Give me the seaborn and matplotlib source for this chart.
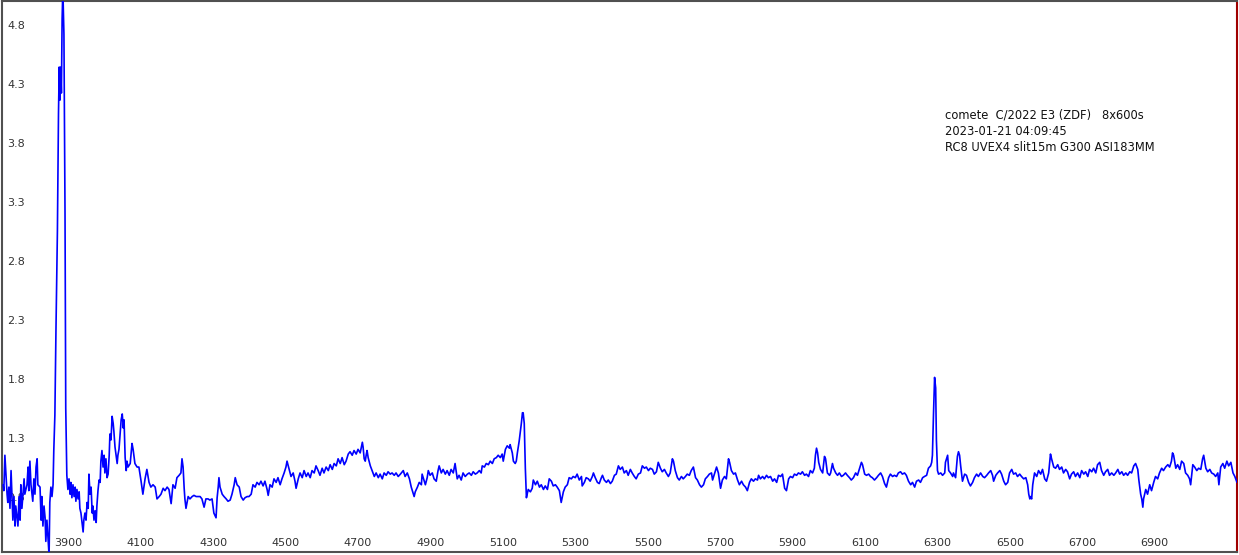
import pandas as pd
import matplotlib
matplotlib.use('Agg')
import matplotlib.pyplot as plt
from matplotlib.ticker import MultipleLocator
import seaborn as sns

sns.set_style('white')
plt.rcParams['font.family'] = ['DejaVu Sans']

# Spectrum values (wavelength in A, relative flux)
wl_uv = [3720, 3722, 3725, 3731, 3733, 3736, 3739, 3742, 3744, 3747, 3750, 3753, 3755, 3761, 3764,
         3767, 3769, 3772, 3778, 3780, 3786, 3789, 3791, 3794, 3797, 3802, 3805, 3808, 3811, 3814,
         3816, 3822, 3825, 3827, 3830, 3833, 3836, 3838, 3841, 3844, 3847, 3849, 3852, 3855, 3858]
flux_uv = [0.9, 0.85, 1.15, 0.82, 0.75, 0.88, 0.7, 1.02, 0.85, 0.6, 0.8, 0.55, 0.72, 0.55, 0.8,
           0.6, 0.9, 0.7, 0.95, 0.82, 0.9, 1.05, 0.85, 1.1, 0.9, 0.76, 0.95, 0.82, 1.05, 1.12,
           0.9, 0.88, 0.6, 0.8, 0.55, 0.72, 0.62, 0.42, 0.6, 0.45, 0.3, 0.75, 0.88, 0.8, 0.9]

wl_cn = [3860, 3863, 3866, 3870, 3873, 3875, 3877, 3879, 3881, 3883, 3885, 3888, 3891, 3893, 3896]
flux_cn = [1.19, 1.49, 2.21, 3.05, 4.05, 4.44, 4.16, 4.44, 4.22, 4.85, 5.1, 4.72, 3.2, 1.55, 0.98]

wl_c3 = [3899, 3902, 3905, 3907, 3910, 3913, 3916, 3919, 3921, 3924, 3927, 3930, 3932, 3935, 3938,
         3941, 3943, 3946, 3949, 3952, 3955, 3957, 3960, 3963, 3966, 3968, 3971, 3974, 3977, 3979,
         3982, 3985, 3988, 3990, 3993, 3996, 3999, 4001, 4004, 4007, 4010, 4013, 4015, 4018, 4021,
         4024, 4026, 4029, 4032, 4035, 4037, 4040, 4043, 4046, 4049, 4052, 4054, 4057, 4060, 4062,
         4065, 4071, 4076, 4079, 4084, 4090, 4095, 4101, 4106, 4112, 4117, 4123, 4128, 4134, 4140,
         4145, 4151, 4156, 4162, 4167, 4173, 4178, 4184, 4189, 4195, 4200, 4206, 4211, 4214, 4217,
         4220, 4222, 4225, 4231, 4236, 4242, 4247, 4253, 4258, 4264, 4269, 4275, 4280, 4286, 4291,
         4297, 4302, 4308, 4311, 4314, 4316, 4319, 4325, 4330, 4336, 4341, 4347, 4352, 4358, 4361,
         4366, 4372, 4377, 4383, 4388, 4394, 4399]
flux_c3 = [0.86, 0.95, 0.82, 0.92, 0.79, 0.9, 0.8, 0.88, 0.76, 0.86, 0.78, 0.84, 0.7, 0.66, 0.58,
           0.5, 0.6, 0.66, 0.6, 0.75, 0.7, 0.99, 0.82, 0.88, 0.66, 0.72, 0.6, 0.68, 0.58, 0.72,
           0.85, 0.94, 0.92, 1.1, 1.19, 1.05, 1.15, 1.0, 1.12, 0.96, 0.99, 1.15, 1.33, 1.28, 1.48,
           1.42, 1.35, 1.22, 1.15, 1.08, 1.15, 1.2, 1.33, 1.45, 1.5, 1.38, 1.45, 1.13, 1.02, 1.1,
           1.05, 1.08, 1.25, 1.2, 1.08, 1.05, 1.05, 0.93, 0.82, 0.95, 1.03, 0.92, 0.88, 0.9, 0.88,
           0.78, 0.8, 0.82, 0.87, 0.85, 0.88, 0.86, 0.74, 0.9, 0.87, 0.96, 0.98, 1.0, 1.12, 1.05,
           0.87, 0.78, 0.7, 0.8, 0.78, 0.8, 0.81, 0.8, 0.8, 0.8, 0.78, 0.71, 0.78, 0.78, 0.77,
           0.78, 0.66, 0.62, 0.79, 0.88, 0.96, 0.88, 0.82, 0.8, 0.78, 0.76, 0.77, 0.82, 0.9, 0.96,
           0.9, 0.88, 0.8, 0.77, 0.79, 0.8, 0.8]

wl_c2 = [4405, 4410, 4416, 4421, 4427, 4432, 4438, 4443, 4449, 4452, 4457, 4463, 4468, 4474, 4479,
         4485, 4490, 4496, 4501, 4504, 4510, 4515, 4521, 4526, 4529, 4535, 4540, 4546, 4551, 4557,
         4562, 4568, 4573, 4579, 4584, 4590, 4595, 4601, 4606, 4612, 4618, 4623, 4629, 4634, 4640,
         4645, 4651, 4656, 4662, 4667, 4673, 4678, 4684, 4689, 4695, 4700, 4706, 4712, 4714, 4717,
         4720, 4723, 4725, 4728, 4734, 4739, 4745, 4750, 4756, 4761, 4767, 4772, 4778, 4783, 4789,
         4794, 4800, 4805, 4811, 4817, 4825, 4830, 4836, 4842, 4847, 4853, 4855, 4858, 4864, 4869,
         4875, 4877, 4883, 4886, 4891, 4894, 4899, 4905, 4910, 4916, 4921, 4924, 4930, 4935, 4941,
         4946, 4952, 4957, 4963, 4968, 4974, 4979, 4985, 4990, 4996, 5002, 5007, 5013, 5018, 5024,
         5029, 5035, 5040, 5043, 5049, 5054, 5060, 5065, 5071, 5076, 5082, 5087, 5093, 5098, 5101,
         5107, 5112, 5118, 5120, 5126, 5129, 5134, 5137, 5140, 5145, 5151, 5154, 5156, 5159, 5162]
flux_c2 = [0.82, 0.9, 0.88, 0.92, 0.9, 0.93, 0.89, 0.93, 0.86, 0.81, 0.9, 0.88, 0.95, 0.92, 0.96,
           0.9, 0.95, 1.0, 1.05, 1.1, 1.03, 0.97, 1.0, 0.93, 0.87, 0.95, 1.0, 0.96, 1.02, 0.97,
           1.0, 0.96, 1.02, 1.0, 1.06, 1.02, 0.98, 1.04, 1.0, 1.05, 1.02, 1.07, 1.03, 1.08, 1.06,
           1.12, 1.08, 1.13, 1.07, 1.1, 1.16, 1.18, 1.15, 1.19, 1.16, 1.2, 1.17, 1.26, 1.22, 1.12,
           1.1, 1.16, 1.19, 1.13, 1.06, 1.02, 0.97, 1.0, 0.96, 0.99, 0.95, 1.0, 0.98, 1.01, 0.99,
           1.0, 0.98, 1.0, 0.97, 0.99, 1.02, 0.97, 1.0, 0.95, 0.88, 0.82, 0.8, 0.84, 0.88, 0.92,
           0.9, 0.99, 0.93, 0.9, 0.96, 1.02, 0.98, 1.0, 0.95, 0.93, 1.02, 1.06, 1.0, 1.03, 0.99,
           1.02, 0.98, 1.03, 1.0, 1.08, 0.95, 0.98, 0.94, 1.0, 0.97, 0.99, 1.0, 0.98, 1.01, 0.99,
           1.0, 1.02, 1.0, 1.06, 1.05, 1.08, 1.07, 1.1, 1.08, 1.12, 1.13, 1.15, 1.13, 1.16, 1.1,
           1.2, 1.23, 1.21, 1.24, 1.17, 1.1, 1.08, 1.1, 1.17, 1.27, 1.42, 1.51, 1.51, 1.42, 1.04]

wl_mid = [5165, 5167, 5170, 5176, 5181, 5184, 5190, 5195, 5201, 5206, 5212, 5217, 5223, 5228, 5234,
          5239, 5245, 5250, 5256, 5261, 5267, 5272, 5278, 5283, 5289, 5294, 5300, 5305, 5311, 5317,
          5319, 5325, 5330, 5336, 5341, 5347, 5350, 5355, 5361, 5366, 5372, 5375, 5380, 5386, 5391,
          5397, 5402, 5408, 5413, 5419, 5424, 5430, 5435, 5441, 5446, 5452, 5457, 5463, 5468, 5474,
          5480, 5485, 5491, 5496, 5502, 5507, 5513, 5518, 5524, 5529, 5535, 5540, 5546, 5551, 5557,
          5562, 5568, 5571, 5576, 5582, 5587, 5593, 5598, 5604, 5609, 5615, 5620, 5626, 5632, 5637,
          5643, 5648, 5654, 5659, 5665, 5670, 5676, 5679, 5684, 5690, 5695, 5701, 5706, 5712, 5717,
          5723, 5726, 5731, 5737, 5742, 5748, 5753, 5759, 5764, 5770, 5775, 5781, 5786, 5792, 5797,
          5803, 5806, 5811, 5817, 5822, 5828, 5833, 5839, 5845, 5850, 5856, 5861, 5867, 5872, 5878,
          5883, 5889, 5894, 5900, 5905, 5911, 5916, 5922, 5927, 5933, 5938, 5944, 5949, 5955, 5960,
          5963, 5966, 5969, 5972, 5977, 5983, 5985, 5988, 5991, 5996, 6002]
flux_mid = [0.79, 0.82, 0.86, 0.84, 0.87, 0.94, 0.9, 0.93, 0.88, 0.9, 0.86, 0.89, 0.86, 0.95, 0.93,
            0.89, 0.9, 0.88, 0.85, 0.75, 0.84, 0.88, 0.9, 0.96, 0.95, 0.97, 0.96, 0.99, 0.94, 0.97,
            0.89, 0.92, 0.96, 0.95, 0.93, 0.97, 1.0, 0.96, 0.92, 0.91, 0.96, 0.98, 0.94, 0.92, 0.94,
            0.91, 0.93, 0.98, 0.99, 1.06, 1.03, 1.05, 1.0, 1.02, 0.98, 1.03, 1.0, 0.97, 0.95, 0.99,
            1.0, 1.06, 1.04, 1.05, 1.02, 1.04, 1.03, 0.99, 1.01, 1.09, 1.04, 1.01, 1.03, 1.0, 0.97,
            1.0, 1.12, 1.1, 1.02, 0.96, 0.94, 0.97, 0.95, 0.97, 0.99, 0.98, 1.02, 1.05, 0.96, 0.94,
            0.9, 0.88, 0.9, 0.95, 0.97, 0.99, 1.0, 0.94, 0.99, 1.05, 1.0, 0.87, 0.94, 0.97, 0.95,
            1.12, 1.09, 1.02, 0.99, 1.0, 0.94, 0.9, 0.93, 0.9, 0.88, 0.85, 0.92, 0.95, 0.93, 0.95,
            0.94, 0.98, 0.95, 0.97, 0.95, 0.98, 0.96, 0.97, 0.93, 0.95, 0.92, 0.98, 0.97, 0.99, 0.87,
            0.85, 0.95, 0.97, 0.96, 0.99, 0.98, 1.0, 0.99, 1.01, 0.98, 0.99, 0.97, 1.02, 1.0, 1.04,
            1.15, 1.21, 1.17, 1.09, 1.03, 1.0, 1.06, 1.14, 1.12, 1.0, 0.98]

wl_red = [6005, 6010, 6013, 6019, 6024, 6029, 6035, 6040, 6046, 6051, 6057, 6062, 6068, 6074, 6079,
          6085, 6090, 6093, 6099, 6104, 6110, 6115, 6120, 6126, 6132, 6137, 6143, 6148, 6154, 6159,
          6165, 6170, 6176, 6181, 6187, 6192, 6198, 6203, 6209, 6214, 6220, 6226, 6231, 6237, 6242,
          6248, 6253, 6259, 6264, 6270, 6275, 6281, 6284, 6286, 6289, 6292, 6295, 6297, 6300, 6303,
          6309, 6314, 6320, 6322, 6328, 6331, 6336, 6342, 6344, 6350, 6355, 6358, 6361, 6364, 6369,
          6375, 6380, 6386, 6391, 6397, 6402, 6408, 6413, 6419, 6425, 6430, 6436, 6441, 6447, 6452,
          6455, 6461, 6466, 6472, 6477, 6483, 6488, 6494, 6499, 6505, 6510, 6516, 6521, 6527, 6532,
          6538, 6544, 6549, 6552, 6555, 6557, 6560, 6563, 6568, 6574, 6579, 6585, 6590, 6596, 6601,
          6607, 6610, 6612, 6615, 6621, 6626, 6632, 6637, 6643, 6648, 6654, 6659, 6665, 6670, 6676,
          6681, 6687, 6693, 6698, 6704, 6709, 6715, 6720, 6726, 6731, 6737, 6742, 6748, 6753, 6759,
          6764, 6770, 6775, 6781, 6787, 6792, 6798, 6803, 6809, 6814, 6820, 6825, 6831, 6836, 6842,
          6847, 6853, 6856, 6861, 6864, 6867, 6869, 6875, 6880, 6886, 6891, 6897, 6902, 6908, 6913,
          6919, 6924, 6930, 6936, 6941, 6946, 6949, 6952, 6958, 6963, 6969, 6974, 6980, 6985, 6991,
          6996, 6999, 7005, 7010, 7016, 7021, 7027, 7032, 7035, 7041, 7046, 7052, 7057, 7063, 7068,
          7074, 7077, 7082, 7088, 7093, 7099, 7104, 7110, 7116, 7121, 7127]
flux_red = [1.0, 1.08, 1.04, 1.0, 0.98, 1.0, 0.97, 0.98, 1.0, 0.98, 0.96, 0.94, 0.96, 1.0, 0.98,
            1.04, 1.09, 1.07, 0.99, 0.98, 0.99, 0.97, 0.96, 0.94, 0.96, 0.98, 1.0, 0.97, 0.91, 0.88,
            0.96, 0.99, 0.97, 0.98, 0.97, 1.0, 1.01, 0.99, 1.0, 0.98, 0.93, 0.9, 0.92, 0.88, 0.93,
            0.94, 0.92, 0.96, 0.97, 0.98, 1.04, 1.06, 1.09, 1.15, 1.5, 1.81, 1.72, 1.28, 1.02, 0.99,
            1.0, 0.98, 1.0, 1.09, 1.15, 1.02, 1.0, 0.97, 1.0, 0.96, 1.14, 1.18, 1.15, 1.06, 0.93,
            0.99, 0.98, 0.92, 0.89, 0.92, 0.96, 0.99, 0.97, 1.0, 0.97, 0.96, 0.98, 1.0, 1.02, 0.98,
            0.93, 0.98, 1.0, 1.02, 0.99, 0.93, 0.9, 0.92, 1.0, 1.03, 0.99, 1.0, 0.97, 0.99, 0.97,
            0.95, 0.96, 0.9, 0.82, 0.78, 0.8, 0.78, 0.9, 1.0, 0.97, 1.02, 0.99, 1.03, 0.95, 0.93,
            1.0, 1.1, 1.16, 1.12, 1.05, 1.04, 1.07, 1.03, 1.05, 1.0, 1.03, 1.01, 0.95, 0.99, 1.01,
            0.97, 1.0, 0.96, 1.02, 0.99, 1.01, 0.97, 1.03, 1.01, 1.04, 1.0, 1.07, 1.09, 1.02, 0.98,
            1.01, 1.03, 0.98, 1.0, 0.98, 1.0, 1.03, 0.99, 1.01, 0.98, 1.0, 0.98, 1.01, 1.0, 1.06,
            1.08, 1.03, 0.94, 0.82, 0.78, 0.71, 0.78, 0.86, 0.82, 0.9, 0.85, 0.92, 0.97, 0.95, 1.0,
            1.04, 1.02, 1.05, 1.07, 1.05, 1.1, 1.17, 1.15, 1.04, 1.07, 1.03, 1.1, 1.08, 1.0, 0.98,
            0.95, 0.9, 1.07, 1.05, 1.02, 1.04, 1.03, 1.12, 1.15, 1.04, 1.01, 1.03, 1.0, 0.99, 0.97,
            1.0, 0.9, 1.05, 1.08, 1.04, 1.1, 1.06, 1.09, 1.0, 0.97, 0.92]

x_ticks = [3900, 4100, 4300, 4500, 4700, 4900, 5100, 5300, 5500, 5700, 5900, 6100, 6300, 6500, 6700, 6900]
y_ticks = [0.8, 1.3, 1.8, 2.3, 2.8, 3.3, 3.8, 4.3, 4.8]
y_labels = ['0.8', '1.3', '1.8', '2.3', '2.8', '3.3', '3.8', '4.3', '4.8']

info = ('comete  C/2022 E3 (ZDF)   8x600s\n'
        '2023-01-21 04:09:45\n'
        'RC8 UVEX4 slit15m G300 ASI183MM')

segments = [('uv', wl_uv, flux_uv), ('cn', wl_cn, flux_cn), ('c3', wl_c3, flux_c3),
            ('c2', wl_c2, flux_c2), ('mid', wl_mid, flux_mid), ('red', wl_red, flux_red)]
wl, flux = [], []
for name, w, f in segments:
    assert len(w) == len(f), f'{name}: {len(w)} vs {len(f)}'
    wl += w
    flux += f
df = pd.DataFrame({'wavelength': wl, 'flux': flux})

fig = plt.figure(figsize=(12.39, 5.55), dpi=100)
ax = fig.add_axes([2 / 1239, 3 / 555, 1235 / 1239, 551 / 555])

sns.lineplot(data=df, x='wavelength', y='flux', color='#0000ff', linewidth=1.2,
             estimator=None, sort=False, ax=ax, zorder=3)

ax.set_xlim(3717, 7127)
ax.set_ylim(0.33, 5.0)
ax.set_xlabel('')
ax.set_ylabel('')

ax.set_xticks(x_ticks)
ax.set_xticklabels([str(t) for t in x_ticks])
ax.xaxis.set_minor_locator(MultipleLocator(20))
ax.set_yticks(y_ticks)
ax.set_yticklabels(y_labels)
ax.yaxis.set_minor_locator(MultipleLocator(0.1))

ax.tick_params(axis='both', which='both', direction='in', colors='#333333', labelsize=8)
ax.tick_params(axis='both', which='major', length=5, width=0.8)
ax.tick_params(axis='both', which='minor', length=3, width=0.8)
ax.tick_params(axis='x', pad=-3)
ax.tick_params(axis='y', pad=-4)
for lab in ax.get_xticklabels():
    lab.set_verticalalignment('bottom')
for lab in ax.get_yticklabels():
    lab.set_horizontalalignment('left')

for side in ['left', 'bottom', 'top']:
    ax.spines[side].set_color('#505050')
    ax.spines[side].set_linewidth(1.5)
ax.spines['right'].set_color('#a00000')
ax.spines['right'].set_linewidth(1.5)

ax.text(0.7636, 0.804, info, transform=ax.transAxes, ha='left', va='top',
        fontsize=8.3, color='#111111', linespacing=1.3)

fig.savefig('out.png', dpi=100)
